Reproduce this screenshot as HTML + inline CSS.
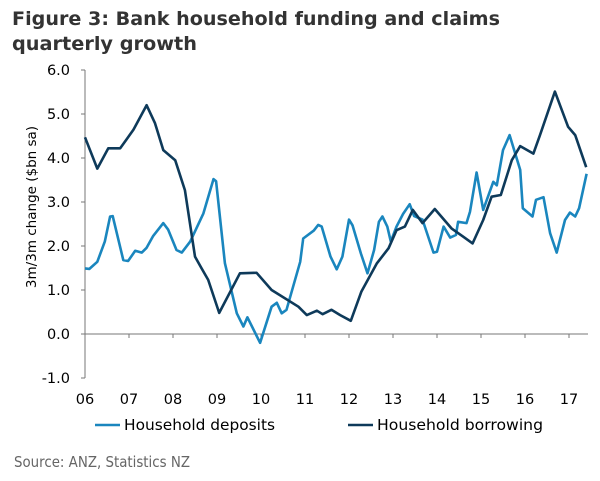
<!DOCTYPE html>
<html><head><meta charset="utf-8"><style>
body{margin:0;background:#fff;width:600px;height:481px;overflow:hidden}
svg{display:block;font-family:"DejaVu Sans","Liberation Sans",sans-serif}
</style></head><body>
<svg id="c" width="600" height="481">
<text x="12" y="25" font-size="19" font-weight="bold" fill="#333" textLength="488" lengthAdjust="spacingAndGlyphs">Figure 3: Bank household funding and claims</text>
<text x="12" y="50" font-size="19" font-weight="bold" fill="#333" textLength="185" lengthAdjust="spacingAndGlyphs">quarterly growth</text>
<text transform="translate(36,207) rotate(-90)" text-anchor="middle" font-size="13.5" fill="#000">3m/3m change ($bn sa)</text>
<text x="14" y="467" font-size="15.5" fill="#666" textLength="176" lengthAdjust="spacingAndGlyphs">Source: ANZ, Statistics NZ</text>
<g id="axes"></g><g id="series"></g><g id="legend"></g>
</svg>
<script>
const yTicks=[6,5,4,3,2,1,0,-1];
const yLabels=["6.0","5.0","4.0","3.0","2.0","1.0","0.0","-1.0"];
const xYears=[2006,2007,2008,2009,2010,2011,2012,2013,2014,2015,2016,2017];
const xLabels=["06","07","08","09","10","11","12","13","14","15","16","17"];
const depT=[2006.0,2006.1,2006.28,2006.45,2006.57,2006.63,2006.87,2006.98,2007.14,2007.29,2007.4,2007.55,2007.78,2007.89,2008.08,2008.2,2008.39,2008.69,2008.92,2008.98,2009.18,2009.45,2009.6,2009.69,2009.98,2010.24,2010.36,2010.47,2010.58,2010.89,2010.96,2011.2,2011.3,2011.38,2011.58,2011.72,2011.85,2012.0,2012.08,2012.27,2012.42,2012.57,2012.68,2012.76,2012.87,2012.95,2013.08,2013.23,2013.38,2013.48,2013.67,2013.92,2014.0,2014.15,2014.3,2014.43,2014.48,2014.67,2014.75,2014.9,2015.05,2015.28,2015.36,2015.5,2015.65,2015.89,2015.95,2016.17,2016.25,2016.42,2016.57,2016.72,2016.91,2017.02,2017.14,2017.23,2017.4];
const depV=[1.49,1.48,1.64,2.1,2.67,2.68,1.68,1.66,1.89,1.85,1.96,2.23,2.52,2.37,1.91,1.85,2.1,2.74,3.52,3.47,1.61,0.47,0.17,0.38,-0.2,0.62,0.71,0.47,0.55,1.64,2.17,2.35,2.48,2.44,1.76,1.47,1.76,2.6,2.47,1.83,1.38,1.91,2.55,2.67,2.44,2.1,2.44,2.73,2.95,2.68,2.6,1.85,1.87,2.44,2.19,2.25,2.55,2.52,2.78,3.67,2.82,3.46,3.38,4.18,4.52,3.73,2.86,2.67,3.05,3.11,2.29,1.85,2.59,2.76,2.67,2.86,3.64];
const borT=[2006.0,2006.28,2006.53,2006.8,2007.1,2007.4,2007.59,2007.78,2008.05,2008.27,2008.5,2008.65,2008.8,2009.05,2009.52,2009.9,2010.24,2010.85,2011.04,2011.27,2011.4,2011.6,2011.8,2012.04,2012.28,2012.63,2012.9,2013.08,2013.27,2013.45,2013.67,2013.95,2014.33,2014.6,2014.81,2015.05,2015.24,2015.45,2015.7,2015.89,2016.19,2016.34,2016.68,2016.98,2017.14,2017.39];
const borV=[4.47,3.76,4.22,4.22,4.64,5.2,4.79,4.18,3.95,3.27,1.76,1.49,1.23,0.48,1.38,1.39,1.0,0.62,0.43,0.53,0.45,0.55,0.43,0.3,0.96,1.6,1.95,2.36,2.44,2.82,2.52,2.84,2.4,2.21,2.06,2.59,3.12,3.16,3.95,4.27,4.1,4.52,5.51,4.71,4.52,3.79];
const NS="http://www.w3.org/2000/svg";
const X=t=>85+(t-2006)*44, Y=v=>334-v*44;
function mk(tag,attrs,parent,text){const e=document.createElementNS(NS,tag);for(const k in attrs)e.setAttribute(k,attrs[k]);if(text!==undefined)e.textContent=text;parent.appendChild(e);return e;}
const ax=document.getElementById('axes');
let l=mk('line',{x1:85,y1:70,x2:85,y2:378,stroke:'#777','stroke-width':1},ax);


yTicks.forEach((v,i)=>{
 const t=mk('line',{x1:81,y1:Y(v),x2:85,y2:Y(v),stroke:'#777'},ax);
 
 
 const tx=mk('text',{x:70,y:Y(v)+5,'text-anchor':'end','font-size':14.5,fill:'#000'},ax,yLabels[i]);
 
 
});
l=mk('line',{x1:85,y1:Y(0),x2:588,y2:Y(0),stroke:'#777','stroke-width':1},ax);


xYears.forEach((yr,i)=>{
 if(i>0){const t=mk('line',{x1:X(yr),y1:Y(0),x2:X(yr),y2:Y(0)+4,stroke:'#777'},ax);
 
 }
 const tx=mk('text',{x:X(yr),y:404,'text-anchor':'middle','font-size':14.5,fill:'#000'},ax,xLabels[i]);
 
 
});
const sg=document.getElementById('series');
function line(T,V,color,name){
 const d=T.map((t,i)=>(i?'L':'M')+X(t).toFixed(1)+','+Y(V[i]).toFixed(1)).join(' ');
 const p=mk('path',{d:d,fill:'none',stroke:color,'stroke-width':2.6,'stroke-linejoin':'round'},sg);
 
 
}
line(depT,depV,'#1a86be','household-deposits-line');
line(borT,borV,'#0e3a5a','household-borrowing-line');
const lg=document.getElementById('legend');
[['#1a86be','Household deposits',95,151],['#0e3a5a','Household borrowing',348,166]].forEach(([c,txt,x,w])=>{
 const g=mk('g',{},lg);
 
 
 mk('line',{x1:x,y1:425,x2:x+25,y2:425,stroke:c,'stroke-width':2.6},g);
 mk('text',{x:x+29,y:430,'font-size':15,fill:'#000',textLength:w,lengthAdjust:'spacingAndGlyphs'},g,txt);
});
</script>
</body></html>
